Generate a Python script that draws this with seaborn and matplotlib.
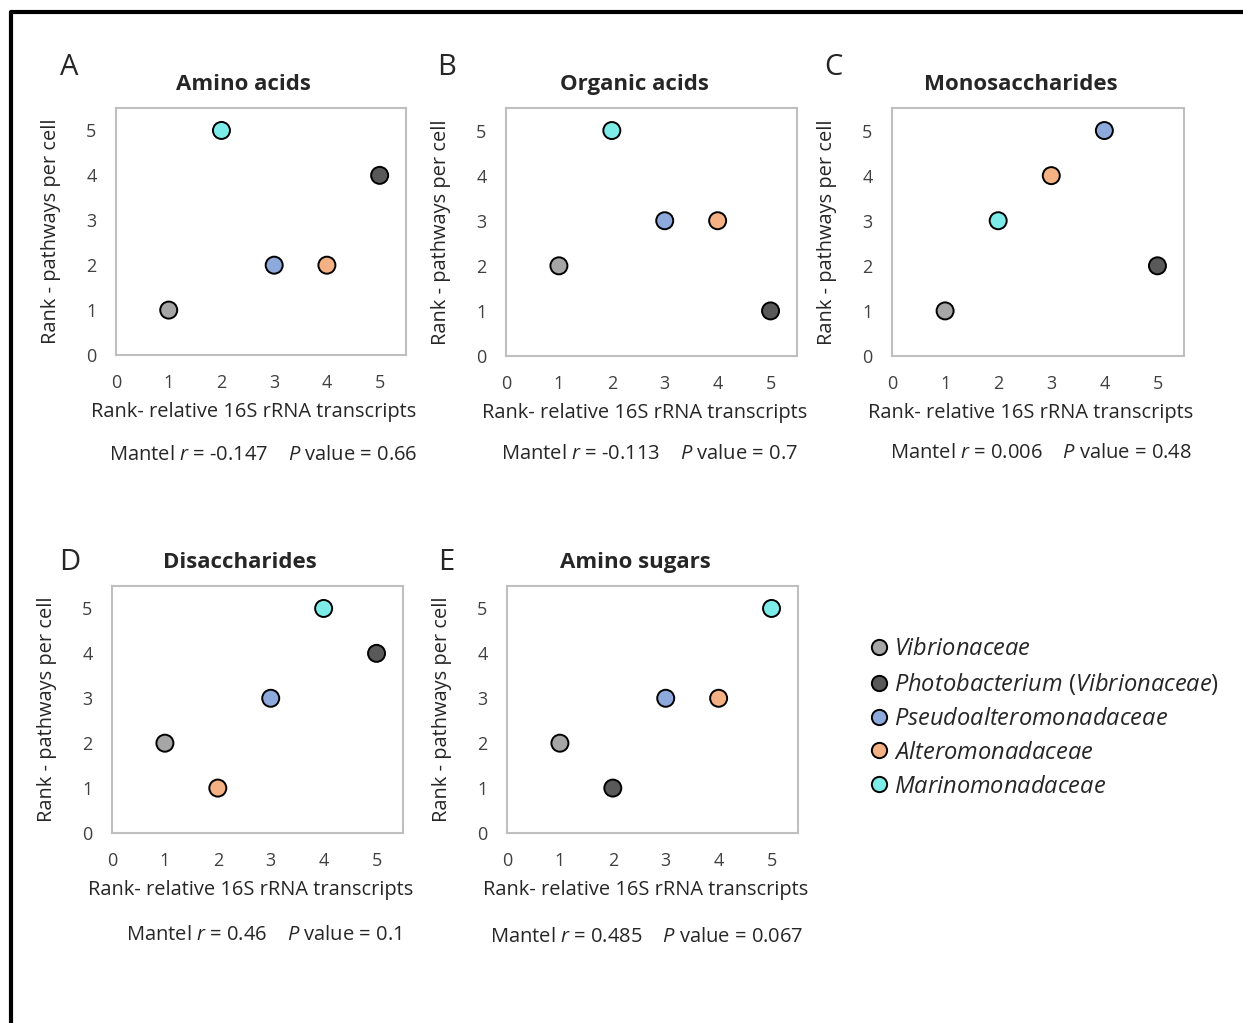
import numpy as np
import pandas as pd
import matplotlib
matplotlib.use("Agg")
import matplotlib.pyplot as plt
from matplotlib.lines import Line2D
import seaborn as sns

familias = ["Vibrionaceae", "Photobacterium (Vibrionaceae)", "Pseudoalteromonadaceae",
            "Alteromonadaceae", "Marinomonadaceae"]
cores = ["#A6A6A6", "#595959", "#8EA9DB", "#F4B183", "#7DEBE8"]

paineis = ["A", "B", "C", "D", "E"]
titulos = ["Amino acids", "Organic acids", "Monosaccharides", "Disaccharides", "Amino sugars"]

# rank 16S (x) e rank vias por celula (y), na ordem de 'familias'
rank_x_A = [1, 5, 3, 4, 2]
rank_y_A = [1, 4, 2, 2, 5]
rank_x_B = [1, 5, 3, 4, 2]
rank_y_B = [2, 1, 3, 3, 5]
rank_x_C = [1, 5, 4, 3, 2]
rank_y_C = [1, 2, 5, 4, 3]
rank_x_D = [1, 5, 3, 2, 4]
rank_y_D = [2, 4, 3, 1, 5]
rank_x_E = [1, 2, 3, 4, 5]
rank_y_E = [2, 1, 3, 3, 5]

mantel_r = ["-0.147", "-0.113", "0.006", "0.46", "0.485"]
p_valor = ["0.66", "0.7", "0.48", "0.1", "0.067"]

xs = [rank_x_A, rank_x_B, rank_x_C, rank_x_D, rank_x_E]
ys = [rank_y_A, rank_y_B, rank_y_C, rank_y_D, rank_y_E]

sns.set_theme(style="white")
plt.rcParams["font.family"] = ["Open Sans", "DejaVu Sans"]
plt.rcParams["mathtext.fontset"] = "custom"
plt.rcParams["mathtext.rm"] = "Open Sans"
plt.rcParams["mathtext.it"] = "Open Sans:italic"

W, H = 1243, 1023
fig = plt.figure(figsize=(W / 100, H / 100), dpi=100)

# caixas em pixels: x, y_topo, largura, altura
caixas = [(116, 108, 290, 247), (506, 108, 291, 248), (892, 108, 292, 248),
          (112, 586, 291, 247), (507, 586, 291, 247)]
letras_pos = [(69, 68), (447, 68), (833, 68), (70, 562), (446, 562)]
mantel_pos = [(263, 455), (649, 454), (1041, 453), (264, 935), (647, 937)]

paleta = dict(zip(familias, cores))

for i in range(5):
    x, yt, w, h = caixas[i]
    ax = fig.add_axes([x / W, 1 - (yt + h) / H, w / W, h / H])
    df = pd.DataFrame({"x": xs[i], "y": ys[i], "familia": familias})
    sns.scatterplot(data=df, x="x", y="y", hue="familia", palette=paleta, s=150,
                    edgecolor="black", linewidth=1.4, legend=False, ax=ax, zorder=3)
    ax.set_xlim(0, 5.5)
    ax.set_ylim(0, 5.5)
    ax.set_xticks(range(6))
    ax.set_yticks(range(6))
    ax.tick_params(length=0, pad=14, labelsize=13, colors="#404040")
    for s in ax.spines.values():
        s.set_color("#BFBFBF")
        s.set_linewidth(1.5)
    ax.set_xlabel("Rank- relative 16S rRNA transcripts", fontsize=14.4, color="#262626",
                  labelpad=7, x=0.476)
    ax.set_ylabel("Rank - pathways per cell", fontsize=14.4, color="#262626", labelpad=18)
    ax.set_title(titulos[i], fontsize=16, fontweight="bold", pad=13, x=0.44)
    lx, ly = letras_pos[i]
    fig.text(lx / W, 1 - ly / H, paineis[i], fontsize=21, ha="center", va="center")
    mx, my = mantel_pos[i]
    fig.text(mx / W, 1 - my / H,
             "Mantel $r$ = " + mantel_r[i] + "    $P$ value = " + p_valor[i],
             fontsize=14.5, ha="center", va="center", color="#262626")

handles = [Line2D([], [], marker="o", linestyle="", markersize=11, markerfacecolor=c,
                  markeredgecolor="black", markeredgewidth=1.4) for c in cores]
rotulos = ["$\\it{Vibrionaceae}$", "$\\it{Photobacterium}$ ($\\it{Vibrionaceae}$)",
           "$\\it{Pseudoalteromonadaceae}$", "$\\it{Alteromonadaceae}$", "$\\it{Marinomonadaceae}$"]
fig.legend(handles, rotulos, loc="upper left", bbox_to_anchor=(866 / W, 1 - 637 / H),
           frameon=False, fontsize=17, handletextpad=0.1, labelspacing=0.42,
           handlelength=1.1, borderaxespad=0, borderpad=0)

fig.add_artist(Line2D([11 / W, 11 / W, 1], [0, 1 - 12 / H, 1 - 12 / H],
                      color="black", linewidth=3, transform=fig.transFigure))

fig.savefig("out.png", dpi=100)
